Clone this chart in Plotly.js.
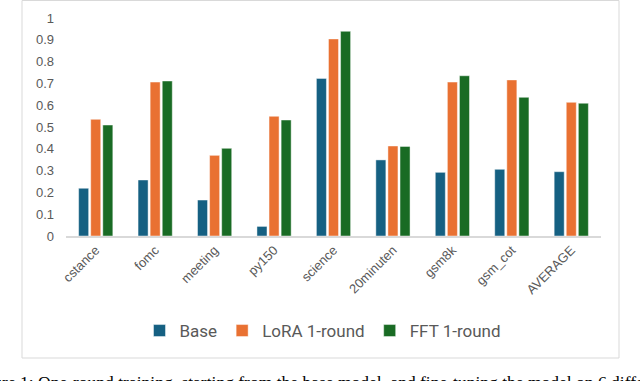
<!DOCTYPE html>
<html>
<head>
<meta charset="utf-8">
<script src="https://cdn.plot.ly/plotly-3.0.1.min.js"></script>
<style>
  html, body { margin: 0; padding: 0; background: #fff; }
  #chart { width: 640px; height: 381px; }
</style>
</head>
<body>
<div id="chart"></div>
<script>
// Task scores
const tasks = ['cstance', 'fomc', 'meeting', 'py150', 'science', '20minuten', 'gsm8k', 'gsm_cot', 'AVERAGE'];
const baseScores = [0.219, 0.257, 0.165, 0.044, 0.723, 0.349, 0.292, 0.306, 0.295];
const loraScores = [0.535, 0.706, 0.370, 0.549, 0.904, 0.413, 0.706, 0.716, 0.613];
const fftScores  = [0.509, 0.711, 0.402, 0.532, 0.939, 0.411, 0.735, 0.636, 0.609];
const seriesNames = ['Base', 'LoRA 1-round', 'FFT 1-round'];
const yTicks = [0, 0.1, 0.2, 0.3, 0.4, 0.5, 0.6, 0.7, 0.8, 0.9, 1];

const colors = ['#156082', '#E97132', '#196B24'];
const textGray = '#595959';

// plot area in pixels: x 66..601, y 18..236
const plotL = 66, plotR = 601, plotT = 18, plotB = 236;
const px = (x) => (x - plotL) / (plotR - plotL);
const py = (y) => (plotB - y) / (plotB - plotT);

function barTrace(name, values, color) {
    return {
        type: 'bar',
        name: name,
        x: tasks,
        y: values,
        marker: { color: color, line: { color: 'rgba(255,255,255,0.45)', width: 1 } },
        hoverinfo: 'skip'
    };
}

const traces = [
    barTrace(seriesNames[0], baseScores, colors[0]),
    barTrace(seriesNames[1], loraScores, colors[1]),
    barTrace(seriesNames[2], fftScores, colors[2])
];

const layout = {
    width: 640,
    height: 381,
    margin: { l: plotL, r: 640 - plotR, t: plotT, b: 381 - plotB },
    paper_bgcolor: '#fff',
    plot_bgcolor: '#fff',
    barmode: 'group',
    bargap: 0.39,
    bargroupgap: 0.17,
    showlegend: true,
    legend: {
        orientation: 'h',
        x: px(323), xanchor: 'center',
        y: py(331), yanchor: 'middle',
        font: { family: 'Roboto, sans-serif', size: 17, color: textGray },
        itemclick: false,
        traceorder: 'normal'
    },
    xaxis: {
        type: 'category',
        showgrid: false,
        zeroline: false,
        showline: true,
        linecolor: '#d9d9d9',
        linewidth: 1.5,
        ticks: '',
        tickangle: -45,
        tickfont: { family: 'Liberation Sans, Arial, sans-serif', size: 13, color: textGray }
    },
    yaxis: {
        range: [0, 1],
        showgrid: false,
        zeroline: false,
        showline: false,
        ticks: '',
        tickvals: yTicks,
        ticktext: yTicks.map(String),
        ticklabelstandoff: 11,
        tickfont: { family: 'Liberation Sans, Arial, sans-serif', size: 13, color: textGray }
    },
    shapes: [
        {
            type: 'rect', xref: 'paper', yref: 'paper',
            x0: px(22), x1: px(619), y0: py(358), y1: py(0.5),
            line: { color: '#d9d9d9', width: 1 }, fillcolor: 'rgba(0,0,0,0)'
        }
    ],
    annotations: [
        {
            // caption runs past both edges of the crop, as in the source
            text: 'Figure 1: One-round training, starting from the base model, and fine-tuning the model on 6 different tasks.',
            xref: 'paper', yref: 'paper',
            x: px(-32), xanchor: 'left',
            y: py(370), yanchor: 'top',
            showarrow: false,
            font: { family: 'Liberation Serif, Times New Roman, serif', size: 17.5, color: '#000' }
        }
    ]
};

Plotly.newPlot('chart', traces, layout, { displayModeBar: false, staticPlot: true });
</script>
</body>
</html>
